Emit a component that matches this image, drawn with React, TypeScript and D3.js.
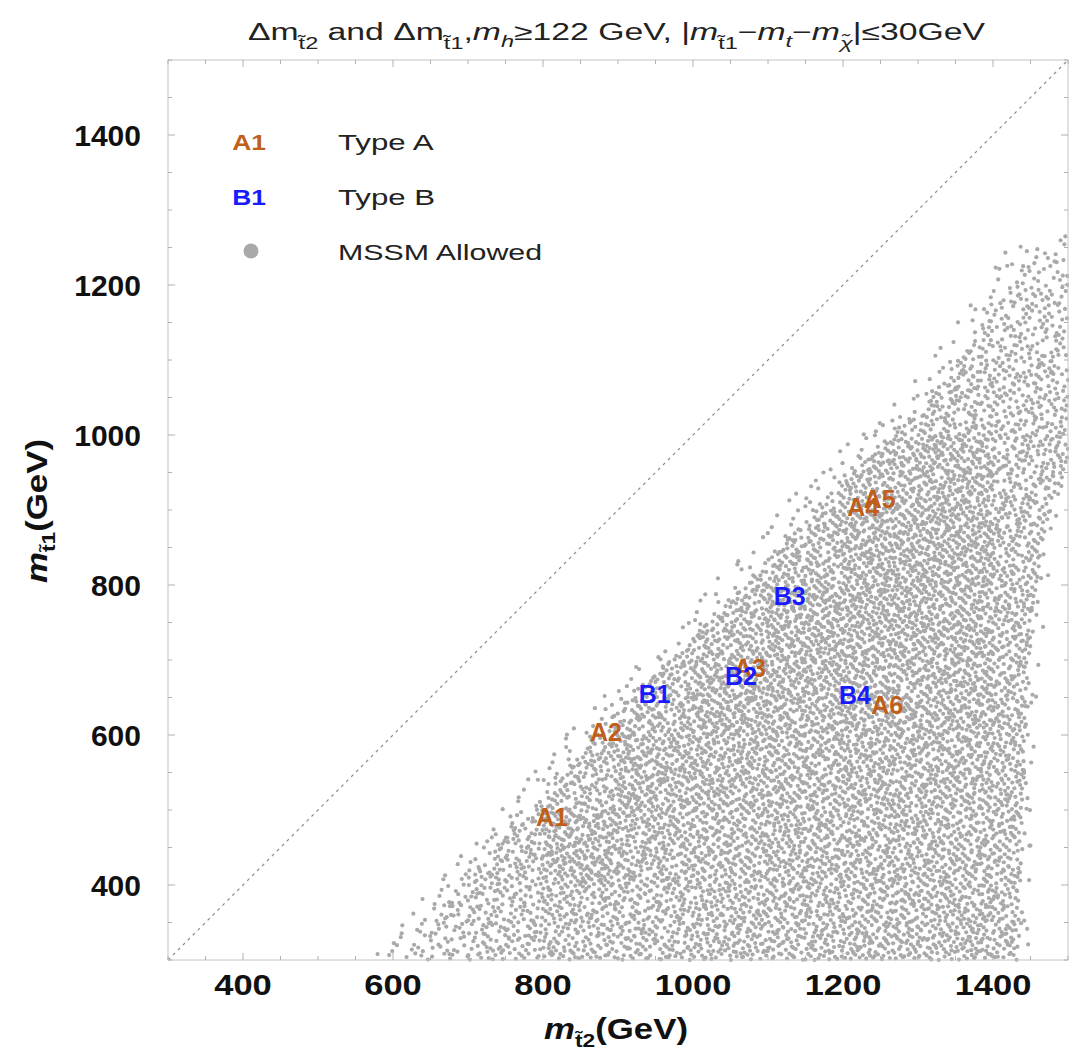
import React, { useMemo } from "react";
import * as d3 from "d3";

// Axis ranges (GeV)
const X_DOMAIN = [300, 1500];
const Y_DOMAIN = [300, 1500];
const X_TICKS = [400, 600, 800, 1000, 1200, 1400];
const Y_TICKS = [400, 600, 800, 1000, 1200, 1400];

// Outline of the dense part of the MSSM-allowed region, (m_t2, m_t1) in GeV
const regionX = [605, 690, 775, 870, 920, 1050, 1210, 1316, 1409, 1440, 1500, 1500, 1470, 1455, 1445, 1440, 1432];
const regionY = [300, 400, 490, 600, 655, 780, 953, 1047, 1180, 1235, 1250, 950, 880, 780, 650, 500, 300];

// Sparse fringe surrounding it
const fringeX = [570, 650, 735, 830, 880, 1005, 1165, 1275, 1375, 1420, 1500, 1500, 1485, 1470, 1460, 1452, 1448];
const fringeY = [300, 400, 490, 600, 655, 780, 953, 1047, 1180, 1250, 1270, 950, 880, 780, 650, 500, 300];
const FRINGE_DENSITY = 0.12;

// Relative point density of the allowed region on a 100 GeV grid
const densityXStart = [600, 700, 800, 900, 1000, 1100, 1200, 1300, 1400];
const densityYStart = [300, 400, 500, 600, 700, 800, 900, 1000, 1100, 1200];
const densityRows = [
  [0.3, 0.45, 0.55, 0.55, 0.6, 0.6, 0.65, 0.65, 0.6],
  [0.3, 0.5, 0.75, 0.65, 0.65, 0.65, 0.65, 0.65, 0.6],
  [0.3, 0.4, 0.55, 0.75, 0.7, 0.7, 0.7, 0.7, 0.6],
  [0.3, 0.3, 0.4, 0.6, 0.8, 0.75, 0.75, 0.75, 0.6],
  [0.3, 0.3, 0.3, 0.45, 0.65, 0.8, 0.8, 0.75, 0.6],
  [0.3, 0.3, 0.3, 0.3, 0.5, 0.65, 0.8, 0.8, 0.55],
  [0.3, 0.3, 0.3, 0.3, 0.3, 0.5, 0.65, 0.75, 0.5],
  [0.3, 0.3, 0.3, 0.3, 0.3, 0.3, 0.45, 0.5, 0.45],
  [0.3, 0.3, 0.3, 0.3, 0.3, 0.3, 0.3, 0.35, 0.35],
  [0.3, 0.3, 0.3, 0.3, 0.3, 0.3, 0.3, 0.3, 0.25],
];

// Benchmark points
const typeALabels = ["A1", "A2", "A3", "A4", "A5", "A6"];
const typeAX = [812, 884, 1076, 1227, 1249, 1259];
const typeAY = [491, 604, 689, 904, 915, 640];
const typeBLabels = ["B1", "B2", "B3", "B4"];
const typeBX = [949, 1064, 1129, 1216];
const typeBY = [655, 679, 785, 653];

const COLOR_A = "#bf5f1a";
const COLOR_B = "#1a1aff";
const COLOR_DOT = "#a9a9a9";
const FONT = "'Liberation Sans', Arial, Helvetica, sans-serif";

// low-discrepancy sequence used to scatter samples over the region
function halton(i: number, base: number): number {
  let f = 1;
  let r = 0;
  while (i > 0) {
    f /= base;
    r += f * (i % base);
    i = Math.floor(i / base);
  }
  return r;
}

function densityAt(x: number, y: number): number {
  const ci = Math.min(densityXStart.length - 1, Math.max(0, Math.floor((x - 600) / 100)));
  const ri = Math.min(densityYStart.length - 1, Math.max(0, Math.floor((y - 300) / 100)));
  return densityRows[ri][ci];
}

export default function App() {
  const W = 1069;
  const H = 1056;
  const x = d3.scaleLinear().domain(X_DOMAIN).range([168, 1068]);
  const y = d3.scaleLinear().domain(Y_DOMAIN).range([960, 60]);

  const points = useMemo(() => {
    const poly: [number, number][] = regionX.map((v, i) => [v, regionY[i]]);
    const outer: [number, number][] = fringeX.map((v, i) => [v, fringeY[i]]);
    const pts: [number, number][] = [];
    const N = 33000;
    for (let i = 1; i <= N; i++) {
      const px = 560 + halton(i, 2) * 940;
      const py = 300 + halton(i, 3) * 975;
      const u = halton(i, 5);
      if (d3.polygonContains(poly, [px, py])) {
        if (u <= densityAt(px, py)) pts.push([px, py]);
      } else if (d3.polygonContains(outer, [px, py])) {
        if (u <= FRINGE_DENSITY) pts.push([px, py]);
      }
    }
    return pts;
  }, []);

  const minorX = d3.range(300, 1501, 50);
  const minorY = d3.range(300, 1501, 50);
  const left = x(300), right = x(1500), top = y(1500), bottom = y(300);

  return (
    <svg
      width={W}
      height={H}
      style={{ position: "absolute", left: 0, top: 0, background: "#fff" }}
      fontFamily={FONT}
    >
      <rect x={0} y={0} width={W} height={H} fill="#fff" />
      {/* scatter of allowed points */}
      <g fill={COLOR_DOT}>
        {points.map((p, i) => (
          <circle key={i} cx={x(p[0])} cy={y(p[1])} r={2.1} />
        ))}
      </g>

      {/* diagonal m_t1 = m_t2 */}
      <line
        x1={x(300)} y1={y(300)} x2={x(1500)} y2={y(1500)}
        stroke="#8a8a8a" strokeWidth={1.2} strokeDasharray="3,4"
      />

      {/* frame */}
      <rect x={left} y={top} width={right - left} height={bottom - top} fill="none" stroke="#c4c4c4" strokeWidth={1} />
      <g stroke="#b0b0b0" strokeWidth={1}>
        {minorX.map((v) => {
          const len = v % 200 === 0 ? 7 : 4;
          return (
            <g key={"tx" + v}>
              <line x1={x(v)} x2={x(v)} y1={bottom} y2={bottom - len} />
              <line x1={x(v)} x2={x(v)} y1={top} y2={top + len} />
            </g>
          );
        })}
        {minorY.map((v) => {
          const len = v % 200 === 0 ? 7 : 4;
          return (
            <g key={"ty" + v}>
              <line x1={left} x2={left + len} y1={y(v)} y2={y(v)} />
              <line x1={right} x2={right - len} y1={y(v)} y2={y(v)} />
            </g>
          );
        })}
      </g>

      {/* tick labels */}
      <g fontSize={30} fontWeight="bold" fill="#111">
        {X_TICKS.map((v) => (
          <text
            key={"xl" + v}
            transform={`translate(${x(v)},995) scale(1.15,1)`}
            textAnchor="middle"
          >
            {v}
          </text>
        ))}
        {Y_TICKS.map((v) => (
          <text key={"yl" + v} x={141} y={y(v) + 11} textAnchor="end">{v}</text>
        ))}
      </g>

      {/* axis titles */}
      <text
        transform="translate(616,1039) scale(1.2,1)"
        textAnchor="middle" fontSize={29} fontWeight="bold" fill="#111"
      >
        <tspan fontStyle="italic">m</tspan>
        <tspan fontSize={19} dy={8}>{"t\u0303"}2</tspan>
        <tspan dy={-8}>(GeV)</tspan>
      </text>
      <text
        transform="translate(47,511) rotate(-90) scale(1.2,1)"
        textAnchor="middle" fontSize={29} fontWeight="bold" fill="#111"
      >
        <tspan fontStyle="italic">m</tspan>
        <tspan fontSize={19} dy={8}>{"t\u0303"}1</tspan>
        <tspan dy={-8}>(GeV)</tspan>
      </text>

      {/* title */}
      <text
        x={248} y={40} fontSize={23} fill="#222"
        textLength={737} lengthAdjust="spacingAndGlyphs"
      >
        <tspan>Δm</tspan>
        <tspan fontSize={16} dy={9}>{"t\u0303"}2</tspan>
        <tspan dy={-9}> and Δm</tspan>
        <tspan fontSize={16} dy={9}>{"t\u0303"}1</tspan>
        <tspan dy={-9}>,</tspan>
        <tspan fontStyle="italic">m</tspan>
        <tspan fontSize={16} dy={7} fontStyle="italic">h</tspan>
        <tspan dy={-7}>≥122 GeV, |</tspan>
        <tspan fontStyle="italic">m</tspan>
        <tspan fontSize={16} dy={9}>{"t\u0303"}1</tspan>
        <tspan dy={-9}>−</tspan>
        <tspan fontStyle="italic">m</tspan>
        <tspan fontSize={16} dy={7} fontStyle="italic">t</tspan>
        <tspan dy={-7}>−</tspan>
        <tspan fontStyle="italic">m</tspan>
        <tspan fontSize={16} dy={9} fontStyle="italic">{"\u03c7\u0303"}</tspan>
        <tspan dy={-9}>|≤30GeV</tspan>
      </text>

      {/* benchmark labels */}
      <g fontSize={25} fontWeight="bold" textAnchor="middle">
        {typeALabels.map((l, i) => (
          <text key={l} x={x(typeAX[i])} y={y(typeAY[i]) + 9} fill={COLOR_A}>{l}</text>
        ))}
        {typeBLabels.map((l, i) => (
          <text key={l} x={x(typeBX[i])} y={y(typeBY[i]) + 9} fill={COLOR_B}>{l}</text>
        ))}
      </g>

      {/* legend */}
      <g fontSize={22}>
        <text transform="translate(249,150) scale(1.2,1)" textAnchor="middle" fontWeight="bold" fill={COLOR_A}>A1</text>
        <text transform="translate(338,150) scale(1.42,1)" fill="#222">Type A</text>
        <text transform="translate(249,205) scale(1.2,1)" textAnchor="middle" fontWeight="bold" fill={COLOR_B}>B1</text>
        <text transform="translate(338,205) scale(1.42,1)" fill="#222">Type B</text>
        <circle cx={251} cy={251} r={7.5} fill={COLOR_DOT} />
        <text transform="translate(338,260) scale(1.38,1)" fill="#222">MSSM Allowed</text>
      </g>
    </svg>
  );
}
